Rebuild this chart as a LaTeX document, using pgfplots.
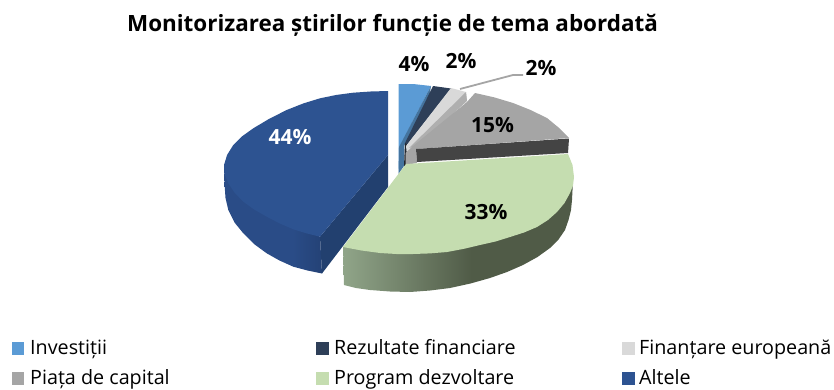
\documentclass[border=0pt]{standalone}
\usepackage{fontspec}
\setmainfont{Open Sans}
\usepackage{pgfplots}
\pgfplotsset{compat=1.18}
\definecolor{cInv}{HTML}{5B9BD5}
\definecolor{cInvS}{HTML}{44749F}
\definecolor{cRez}{HTML}{2E3F58}
\definecolor{cRezS}{HTML}{22262C}
\definecolor{cFin}{HTML}{D9D9D9}
\definecolor{cFinS}{HTML}{AFAFAF}
\definecolor{cPia}{HTML}{A5A5A5}
\definecolor{cPiaS}{HTML}{444444}
\definecolor{cPro}{HTML}{C5DDB0}
\definecolor{cAlt}{HTML}{2D5391}
\definecolor{cAltC}{HTML}{22406F}
\definecolor{cAltA}{HTML}{2A4C87}
\definecolor{cAltB}{HTML}{244276}
\definecolor{cProA}{HTML}{90A589}
\definecolor{cProB}{HTML}{505B47}
\pgfdeclarehorizontalshading{greenside}{100bp}{color(0bp)=(cProA); color(25bp)=(cProA); color(53bp)=(cProB); color(100bp)=(cProB)}
\pgfdeclarehorizontalshading{blueside}{100bp}{color(0bp)=(cAltA); color(25bp)=(cAltA); color(60bp)=(cAltA); color(75bp)=(cAltB); color(100bp)=(cAltB)}
\newcommand{\tfont}{\fontsize{22.5}{25}\selectfont\bfseries}
\newcommand{\lfont}{\fontsize{21}{24}\selectfont\bfseries}
\newcommand{\gfont}{\fontsize{19.8}{23}\selectfont}
\begin{document}
\begin{tikzpicture}[x=1bp,y=1bp]
\useasboundingbox (0,0) rectangle (834,389);
\begin{axis}[at={(0,0)},anchor=south west,scale only axis,width=834bp,height=389bp,
  xmin=0,xmax=834,ymin=0,ymax=389,y dir=reverse,hide axis,clip=false,
  every axis plot/.append style={mark=none,line width=0pt,draw=none}]
% Altele: side
\addplot[shade,shading=blueside] coordinates {(224,165)(224.6,185)(225.5,198)(228.3,210)(234.5,222.5)(243.3,233.3)(254,244)(266.7,253.3)(279.5,260.5)(293.3,266.7)(307.5,270.5)(322,273.5)(320,236.7)(293,225)(250,190)} -- cycle;
% Altele: cut face
\addplot[fill=cAltC] coordinates {(388,155)(388,187)(322,273.5)(320,236.7)} -- cycle;
% Altele: top
\addplot[fill=cAlt] coordinates {(388,155)(388,91)(370.7,91.5)(353.3,92.7)(336.6,94.9)(320,98.3)(303.4,103.4)(286.7,110)(269.2,118.8)(253.3,128.3)(241.8,136.5)(233.3,145)(227.1,154.9)(224,165)(224.6,174.3)(228.3,183.3)(234.6,192.7)(243.3,201.7)(254.3,209.6)(266.7,216.7)(279.8,223.5)(293.3,229.3)(306.6,233.4)(320,236.7)} -- cycle;
% Investitii
\addplot[fill=cInv] coordinates {(398.5,84)(415,84.2)(431,86)(400,146)(398.5,173)} -- cycle;
\addplot[fill=cInvS] coordinates {(431,86)(399,147)(398.5,174)(404,166)(404.5,145)(429,99)} -- cycle;
% Rezultate financiare
\addplot[fill=cRez] coordinates {(433,86)(451,88.5)(406,146)(405,143)} -- cycle;
\addplot[fill=cRezS] coordinates {(405,143)(408,146)(407,166)(404,166)} -- cycle;
% Finantare europeana
\addplot[fill=cFin] coordinates {(451,88)(466,92)(467,100)(415,147)(407,156)(406,146)} -- cycle;
\addplot[fill=cFinS] coordinates {(466,92)(467,101)(420,144)(413,147)(409,148)} -- cycle;
% Piata de capital
\addplot[fill=cPia] coordinates {(475,93)(494,97.3)(513,103)(530.5,110)(547,118)(558.5,127.5)(569,138)(416,149)(417,163)(405.5,165)(405.5,153)(413,146)(467,102)} -- cycle;
\addplot[fill=cPiaS] coordinates {(416,149)(569,138.5)(568,153)(417,162)} -- cycle;
% Program dezvoltare: side
\addplot[shade,shading=greenside] coordinates {(343,247)(344,285)(356,288)(370,290)(390,291.5)(410,292)(430,290.5)(450,288)(470.5,283.5)(490,278)(507,272)(523,265)(537.5,257)(550,248)(558.5,239.5)(565,230)(568.5,220)(571,210)(572,200)(572.5,190)(573,177)(550,190)(450,240)} -- cycle;
% Program dezvoltare: top
\addplot[fill=cPro] coordinates {(406,164)(568,154)(572.5,165)(574,177)(573,185.5)(570,193)(564.5,203)(557,212)(548,220)(537,227)(524,232.5)(510,237)(495.5,241.5)(480,245)(464,248.8)(447,252)(430,253.4)(413,254)(396.5,254)(380,253)(361.5,250.5)(343,247)} -- cycle;
% leader line
\addplot[draw=cPia,line width=1.8bp] coordinates {(460,89)(513,75)(523,75)};
% legend swatches
\addplot[fill=cInv] coordinates {(11.5,342)(24,342)(24,355)(11.5,355)} -- cycle;
\addplot[fill=cRez] coordinates {(316,342)(329,342)(329,355)(316,355)} -- cycle;
\addplot[fill=cFin] coordinates {(622,342)(635,342)(635,355)(622,355)} -- cycle;
\addplot[fill=cPia] coordinates {(11.5,372)(24,372)(24,385)(11.5,385)} -- cycle;
\addplot[fill=cPro] coordinates {(316,372)(329,372)(329,385)(316,385)} -- cycle;
\addplot[fill=cAlt] coordinates {(622,372)(635,372)(635,385)(622,385)} -- cycle;
% texts
\node[anchor=base,inner sep=0pt] at (axis cs:392.5,32) {\tfont Monitorizarea știrilor funcție de tema abordată};
\node[anchor=base,inner sep=0pt] at (axis cs:414,72) {\lfont 4\%};
\node[anchor=base,inner sep=0pt] at (axis cs:461,69) {\lfont 2\%};
\node[anchor=base,inner sep=0pt] at (axis cs:541,75.5) {\lfont 2\%};
\node[anchor=base,inner sep=0pt] at (axis cs:492.5,132) {\lfont 15\%};
\node[anchor=base,inner sep=0pt] at (axis cs:486,219) {\lfont 33\%};
\node[anchor=base,inner sep=0pt,text=white] at (axis cs:290,144) {\lfont 44\%};
\node[anchor=base west,inner sep=0pt] at (axis cs:30,354) {\gfont Investiții};
\node[anchor=base west,inner sep=0pt] at (axis cs:334,354) {\gfont Rezultate financiare};
\node[anchor=base west,inner sep=0pt] at (axis cs:639,354) {\gfont Finanțare europeană};
\node[anchor=base west,inner sep=0pt] at (axis cs:30,384) {\gfont Piața de capital};
\node[anchor=base west,inner sep=0pt] at (axis cs:334,384) {\gfont Program dezvoltare};
\node[anchor=base west,inner sep=0pt] at (axis cs:639,384) {\gfont Altele};
\end{axis}
\end{tikzpicture}
\end{document}
